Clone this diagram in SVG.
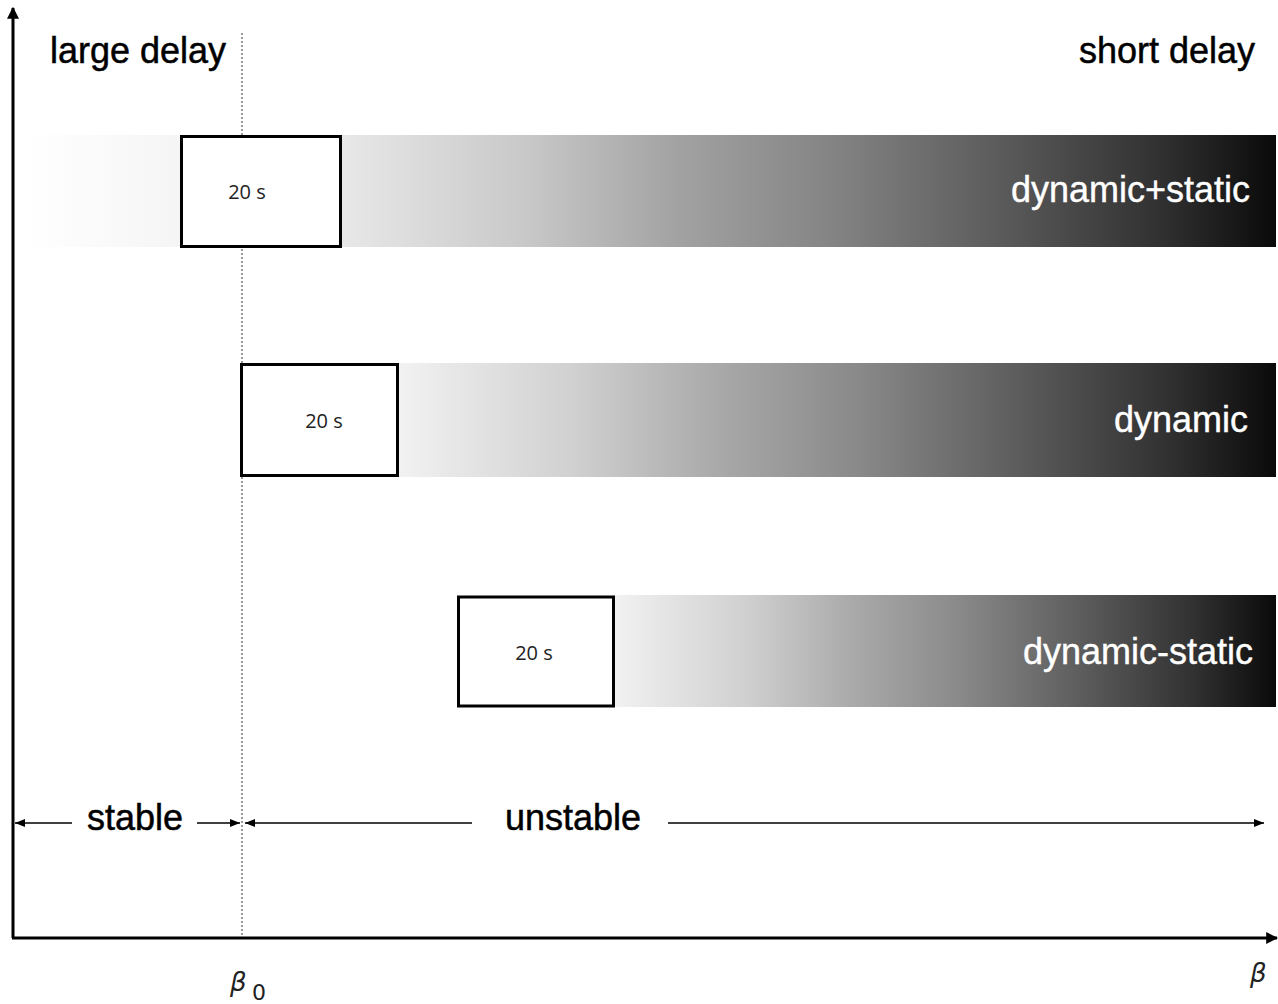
<svg xmlns="http://www.w3.org/2000/svg" width="1278" height="1004" viewBox="0 0 1278 1004">
  <defs>
    <linearGradient id="g1" x1="0" y1="0" x2="1" y2="0">
      <stop offset="0" stop-color="#e8e8e8"/>
      <stop offset="0.2" stop-color="#c8c8c8"/>
      <stop offset="0.36" stop-color="#a2a2a2"/>
      <stop offset="0.52" stop-color="#858585"/>
      <stop offset="0.7" stop-color="#5c5c5c"/>
      <stop offset="0.88" stop-color="#303030"/>
      <stop offset="1" stop-color="#0a0a0a"/>
    </linearGradient>
    <linearGradient id="g2" x1="0" y1="0" x2="1" y2="0">
      <stop offset="0" stop-color="#f2f2f2"/>
      <stop offset="0.2" stop-color="#d0d0d0"/>
      <stop offset="0.36" stop-color="#aaaaaa"/>
      <stop offset="0.52" stop-color="#8a8a8a"/>
      <stop offset="0.7" stop-color="#5e5e5e"/>
      <stop offset="0.88" stop-color="#303030"/>
      <stop offset="1" stop-color="#0a0a0a"/>
    </linearGradient>
    <linearGradient id="fade" x1="0" y1="0" x2="1" y2="0">
      <stop offset="0" stop-color="#ffffff"/>
      <stop offset="1" stop-color="#f5f5f5"/>
    </linearGradient>
    <marker id="ah" viewBox="0 0 10 10" refX="10" refY="5" markerWidth="10" markerHeight="10" markerUnits="userSpaceOnUse" orient="auto-start-reverse">
      <path d="M0,1 L10,5 L0,9 Z" fill="#000"/>
    </marker>
    <marker id="axh" viewBox="0 0 10 10" refX="9" refY="5" markerWidth="4" markerHeight="4" orient="auto">
      <path d="M0,0 L10,5 L0,10 Z" fill="#000"/>
    </marker>
  </defs>
  <style>
    .big { font-family: "Liberation Sans", Arial, sans-serif; font-size: 36px; fill: #000; stroke: #000; stroke-width: 0.5; }
    .wt { font-family: "Liberation Sans", Arial, sans-serif; font-size: 36px; fill: #fff; stroke: #fff; stroke-width: 0.4; text-anchor: end; }
    .box { fill: #fff; stroke: #000; stroke-width: 3; }
    .lbl { font-family: "Open Sans", "Noto Sans", sans-serif; font-size: 20px; fill: #222; text-anchor: middle; }
    .dim { stroke: #000; stroke-width: 1.5; fill: none; }
    .greek { font-family: "DejaVu Sans", sans-serif; font-style: italic; font-size: 26px; fill: #222; }
    .sub { font-family: "DejaVu Sans", sans-serif; font-style: normal; font-size: 22px; fill: #222; }
  </style>
  <rect width="1278" height="1004" fill="#fff"/>

  <g id="band1">
    <rect x="25" y="135" width="156" height="112" fill="url(#fade)"/>
    <rect x="341" y="135" width="935" height="112" fill="url(#g1)"/>
  </g>
  <g id="band2">
    <rect x="398" y="363" width="878" height="114" fill="url(#g2)"/>
  </g>
  <g id="band3">
    <rect x="613" y="595" width="663" height="112" fill="url(#g2)"/>
  </g>

  <g id="beta0-line">
    <line x1="242" y1="33" x2="242" y2="937" stroke="#333" stroke-width="1" stroke-dasharray="2 2"/>
  </g>

  <g id="node1">
    <rect class="box" x="181.5" y="136.5" width="159" height="110"/>
    <text class="lbl" x="247" y="199">20 s</text>
    <text class="wt" x="1250" y="202">dynamic+static</text>
  </g>
  <g id="node2">
    <rect class="box" x="241.5" y="364.5" width="156" height="111"/>
    <text class="lbl" x="324" y="428">20 s</text>
    <text class="wt" x="1248" y="432">dynamic</text>
  </g>
  <g id="node3">
    <rect class="box" x="458.5" y="597" width="155" height="109"/>
    <text class="lbl" x="534" y="660">20 s</text>
    <text class="wt" x="1253" y="664">dynamic-static</text>
  </g>

  <g id="axes">
    <line x1="13" y1="938" x2="13" y2="8" stroke="#000" stroke-width="3" marker-end="url(#axh)"/>
    <line x1="12" y1="938" x2="1277" y2="938" stroke="#000" stroke-width="3" marker-end="url(#axh)"/>
  </g>

  <g id="labels">
    <text class="big" x="50" y="63">large delay</text>
    <text class="big" x="1255" y="63" text-anchor="end">short delay</text>
    <text class="big" x="87" y="830">stable</text>
    <text class="big" x="505" y="830">unstable</text>
    <text class="greek" x="230" y="991">β</text>
    <text class="sub" x="252" y="1000">0</text>
    <text class="greek" x="1250" y="982">β</text>
  </g>

  <g id="connectors">
    <line class="dim" x1="72" y1="823" x2="15" y2="823" marker-end="url(#ah)"/>
    <line class="dim" x1="197" y1="823" x2="240" y2="823" marker-end="url(#ah)"/>
    <line class="dim" x1="472" y1="823" x2="245" y2="823" marker-end="url(#ah)"/>
    <line class="dim" x1="668" y1="823" x2="1264" y2="823" marker-end="url(#ah)"/>
  </g>
</svg>
